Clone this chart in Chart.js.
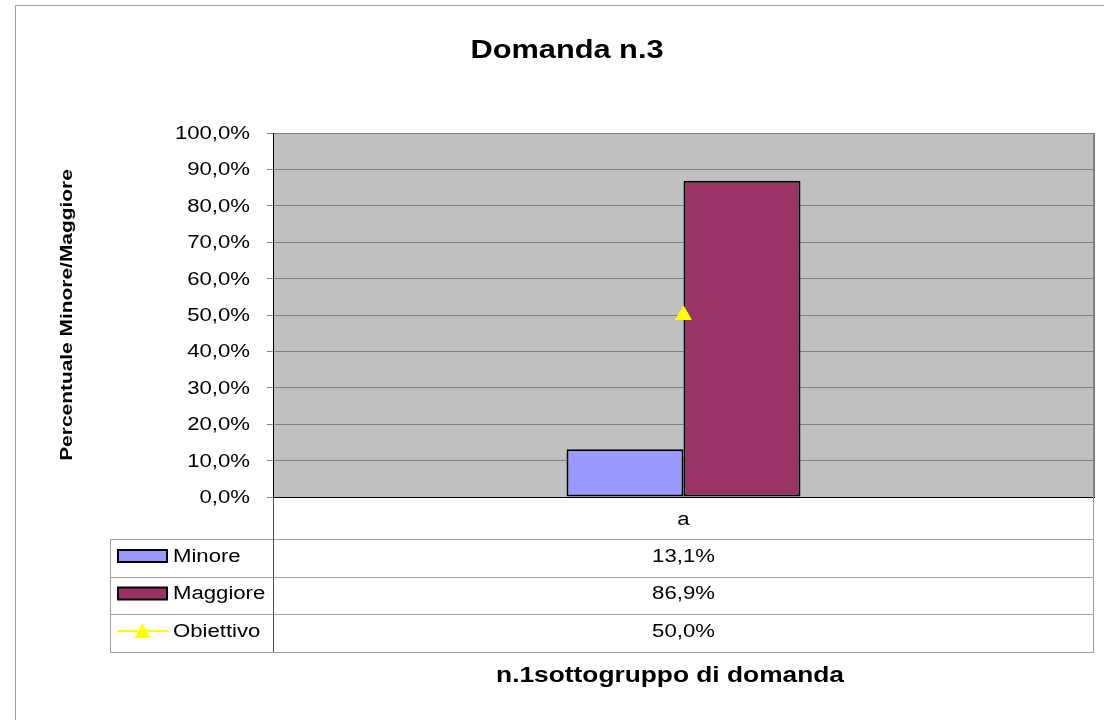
<!DOCTYPE html>
<html>
<head>
<meta charset="utf-8">
<script src="https://cdn.jsdelivr.net/npm/chart.js@4.4.0/dist/chart.umd.min.js"></script>
<style>
  html, body { margin: 0; padding: 0; background: #fff; }
  #wrap { width: 1104px; height: 720px; }
</style>
</head>
<body>
<div id="wrap"><canvas id="canvas"></canvas></div>
<script>
// chart data
var categories = ['a'];
var minore = [13.1];
var maggiore = [86.9];
var obiettivo = [50.0];
var seriesNames = ['Minore', 'Maggiore', 'Obiettivo'];
var yTickLabels = ['0,0%', '10,0%', '20,0%', '30,0%', '40,0%', '50,0%', '60,0%', '70,0%', '80,0%', '90,0%', '100,0%'];

var FONT = '"Liberation Sans", Arial, sans-serif';
var SX = 1.23; // the original text is rendered wide
var colMinore = '#9999FF';
var colMaggiore = '#993366';
var colObiettivo = '#FFFF00';

function pct(v) {
    return v.toFixed(1).replace('.', ',') + '%';
}

function wideText(ctx, text, x, y, align, font, angle) {
    ctx.save();
    ctx.font = font;
    ctx.textAlign = align;
    ctx.textBaseline = 'middle';
    ctx.fillStyle = '#000';
    ctx.translate(x, y);
    if (angle) ctx.rotate(angle);
    ctx.scale(SX, 1);
    ctx.fillText(text, 0, 0);
    ctx.restore();
}

// grey plot background + outer frame
var backgroundPlugin = {
    id: 'background',
    beforeDraw: function(chart) {
        var ctx = chart.ctx, a = chart.chartArea;
        ctx.save();
        ctx.fillStyle = '#fff';
        ctx.fillRect(0, 0, chart.width, chart.height);
        ctx.strokeStyle = '#a0a0a0';
        ctx.lineWidth = 1;
        ctx.strokeRect(15.5, 5.5, 1300, 900);
        ctx.fillStyle = '#C0C0C0';
        ctx.fillRect(a.left, a.top, a.right - a.left, a.bottom - a.top);
        ctx.restore();
    }
};

// texts, y tick labels and the data table under the plot
var tablePlugin = {
    id: 'datatable',
    afterDraw: function(chart) {
        var ctx = chart.ctx, a = chart.chartArea, xs = chart.scales.x, ys = chart.scales.y;
        var tLeft = 110, sep = a.left, tRight = a.right;
        var rows = [a.bottom, 539, 577, 614, 652];
        ctx.save();

        // plot right border
        ctx.strokeStyle = '#808080';
        ctx.lineWidth = 2;
        ctx.beginPath();
        ctx.moveTo(a.right, a.top);
        ctx.lineTo(a.right, a.bottom);
        ctx.stroke();

        // y tick labels
        ys.ticks.forEach(function(t, i) {
            wideText(ctx, yTickLabels[i], 250, ys.getPixelForTick(i) + 1, 'right', '18px ' + FONT);
        });

        // table lines
        ctx.lineWidth = 1;
        ctx.strokeStyle = '#a0a0a0';
        ctx.beginPath();
        for (var r = 1; r < rows.length; r++) {
            ctx.moveTo(tLeft, rows[r] + 0.5);
            ctx.lineTo(tRight, rows[r] + 0.5);
        }
        ctx.moveTo(tLeft + 0.5, rows[1]);
        ctx.lineTo(tLeft + 0.5, rows[4]);
        ctx.moveTo(tRight - 0.5, rows[0]);
        ctx.lineTo(tRight - 0.5, rows[4]);
        ctx.stroke();
        ctx.strokeStyle = '#505050';
        ctx.beginPath();
        ctx.moveTo(sep + 0.5, rows[0]);
        ctx.lineTo(sep + 0.5, rows[4]);
        ctx.stroke();

        // category and values
        var tf = '18px ' + FONT;
        var series = [minore, maggiore, obiettivo];
        categories.forEach(function(c, i) {
            var cx = xs.getPixelForValue(i);
            wideText(ctx, c, cx, (rows[0] + rows[1]) / 2 + 2, 'center', tf);
            series.forEach(function(s, k) {
                wideText(ctx, pct(s[i]), cx, (rows[k + 1] + rows[k + 2]) / 2 - 1, 'center', tf);
            });
        });

        // legend keys
        var keyX = 118, keyW = 49;
        seriesNames.forEach(function(name, k) {
            var cy = (rows[k + 1] + rows[k + 2]) / 2 - 2;
            if (k < 2) {
                ctx.fillStyle = k === 0 ? colMinore : colMaggiore;
                ctx.fillRect(keyX, cy - 6, keyW, 12);
                ctx.strokeStyle = '#000';
                ctx.lineWidth = 2;
                ctx.strokeRect(keyX, cy - 6, keyW, 12);
            } else {
                ctx.strokeStyle = colObiettivo;
                ctx.lineWidth = 2;
                ctx.beginPath();
                ctx.moveTo(keyX - 1, cy);
                ctx.lineTo(keyX + keyW + 1, cy);
                ctx.stroke();
                ctx.fillStyle = colObiettivo;
                ctx.beginPath();
                ctx.moveTo(keyX + keyW / 2, cy - 8);
                ctx.lineTo(keyX + keyW / 2 + 8, cy + 7);
                ctx.lineTo(keyX + keyW / 2 - 8, cy + 7);
                ctx.closePath();
                ctx.fill();
            }
            wideText(ctx, name, 173, cy + 1, 'left', tf);
        });

        // titles
        wideText(ctx, 'Domanda n.3', 567, 51, 'center', 'bold 25px ' + FONT);
        wideText(ctx, 'n.1sottogruppo di domanda', 670, 676, 'center', 'bold 21.4px ' + FONT);
        wideText(ctx, 'Percentuale Minore/Maggiore', 67, (a.top + a.bottom) / 2, 'center', 'bold 17px ' + FONT, -Math.PI / 2);
        ctx.restore();
    }
};

var config = {
    data: {
        labels: categories,
        datasets: [{
            type: 'line',
            label: seriesNames[2],
            data: obiettivo,
            borderColor: colObiettivo,
            backgroundColor: colObiettivo,
            pointStyle: 'triangle',
            pointRadius: 9,
            borderWidth: 1,
            order: 0
        }, {
            type: 'bar',
            label: seriesNames[0],
            data: minore,
            backgroundColor: colMinore,
            borderColor: '#000',
            borderWidth: 2,
            borderSkipped: false,
            order: 1
        }, {
            type: 'bar',
            label: seriesNames[1],
            data: maggiore,
            backgroundColor: colMaggiore,
            borderColor: '#000',
            borderWidth: 2,
            borderSkipped: false,
            order: 1
        }]
    },
    options: {
        responsive: true,
        maintainAspectRatio: false,
        animation: false,
        layout: { padding: { left: 15, top: 133, right: 9, bottom: 223 } },
        plugins: {
            legend: { display: false },
            tooltip: { enabled: false },
            title: { display: false }
        },
        datasets: {
            bar: { categoryPercentage: 0.285, barPercentage: 1 }
        },
        scales: {
            x: {
                ticks: { display: false },
                grid: { display: false },
                border: { color: '#000', width: 1 },
                afterFit: function(s) { s.height = 0; }
            },
            y: {
                min: 0,
                max: 100,
                ticks: { stepSize: 10, display: false },
                grid: { color: '#808080', tickColor: '#808080', tickLength: 6, lineWidth: 1 },
                border: { color: '#000', width: 1 },
                afterFit: function(s) { s.width = 258; }
            }
        }
    },
    plugins: [backgroundPlugin, tablePlugin]
};

window.onload = function() {
    window.myChart = new Chart(document.getElementById('canvas'), config);
};
</script>
</body>
</html>
